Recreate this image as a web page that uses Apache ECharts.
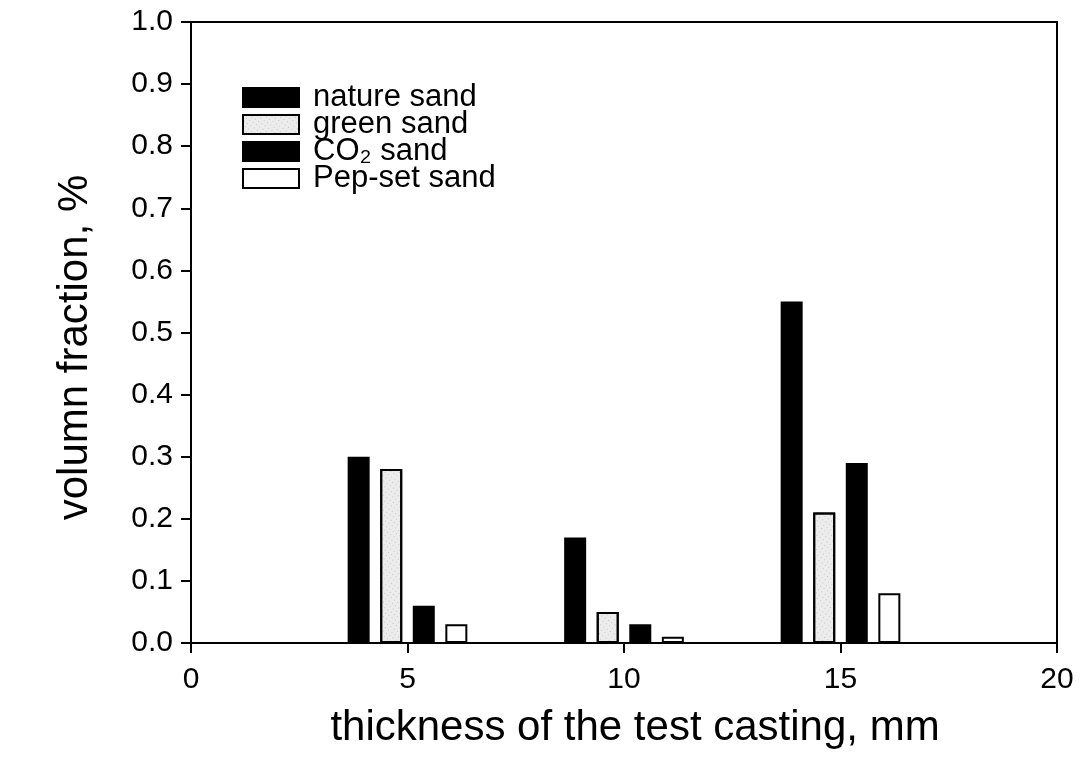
<!DOCTYPE html>
<html>
<head>
<meta charset="utf-8">
<script src="https://cdn.jsdelivr.net/npm/echarts@6/dist/echarts.min.js"></script>
<style>
  html, body { margin: 0; padding: 0; background: #fff; }
  #main { width: 1092px; height: 758px; }
</style>
</head>
<body>
<div id="main"></div>
<script>
var thickness = [5, 10, 15]
var seriesNames = ['nature sand', 'green sand', 'CO₂ sand', 'Pep-set sand']
var natureSand = [0.30, 0.17, 0.55]
var greenSand = [0.28, 0.05, 0.21]
var co2Sand = [0.06, 0.03, 0.29]
var pepSetSand = [0.03, 0.01, 0.08]

var chartDom = document.getElementById('main')
var myChart = echarts.init(chartDom)
var option

var font = 'Liberation Sans, Arial, sans-serif'

function pairs (vals) {
  return thickness.map(function (t, i) { return [t, vals[i]] })
}

var stipple = {
  symbol: 'rect',
  symbolSize: 0.6,
  color: 'rgba(0,0,0,0.55)',
  dashArrayX: [1, 3],
  dashArrayY: [1, 3],
  rotation: 0.6
}

var styles = [
  { color: '#000', borderColor: '#000', borderWidth: 1.5 },
  { color: '#ececec', borderColor: '#000', borderWidth: 2, decal: stipple },
  { color: '#000', borderColor: '#000', borderWidth: 1.5 },
  { color: '#fff', borderColor: '#000', borderWidth: 2 }
]

var values = [natureSand, greenSand, co2Sand, pepSetSand]

option = {
  backgroundColor: '#fff',
  animation: false,
  textStyle: { fontFamily: font, color: '#000' },
  grid: {
    left: 191,
    right: 35,
    top: 22,
    bottom: 115,
    show: true,
    borderColor: '#000',
    borderWidth: 2
  },
  legend: {
    orient: 'vertical',
    left: 242,
    top: 82,
    padding: 0,
    icon: 'rect',
    itemWidth: 56,
    itemHeight: 19,
    itemGap: -4,
    data: seriesNames,
    textStyle: {
      fontFamily: font,
      fontSize: 31,
      color: '#000',
      padding: [0, 0, 0, 9]
    }
  },
  xAxis: {
    type: 'value',
    min: 0,
    max: 20,
    interval: 5,
    name: 'thickness of the test casting, mm',
    nameLocation: 'middle',
    nameGap: 64,
    nameTextStyle: { fontSize: 42, fontFamily: font, color: '#000', padding: [0, 0, 0, 22] },
    axisLine: { lineStyle: { color: '#000', width: 2 } },
    axisTick: { inside: false, length: 10, lineStyle: { color: '#000', width: 2 } },
    axisLabel: { fontSize: 30, color: '#000', fontFamily: font, margin: 22 },
    splitLine: { show: false }
  },
  yAxis: {
    type: 'value',
    min: 0,
    max: 1,
    interval: 0.1,
    name: 'volumn fraction, %',
    nameLocation: 'middle',
    nameGap: 95,
    nameTextStyle: { fontSize: 42, fontFamily: font, color: '#000', padding: [0, 30, 0, 0] },
    axisLine: { show: true, lineStyle: { color: '#000', width: 2 } },
    axisTick: { inside: false, length: 10, lineStyle: { color: '#000', width: 2 } },
    axisLabel: {
      fontSize: 30,
      color: '#000',
      fontFamily: font,
      margin: 18,
      formatter: function (v) { return v.toFixed(1) }
    },
    splitLine: { show: false }
  },
  series: seriesNames.map(function (name, i) {
    return {
      name: name,
      type: 'bar',
      barWidth: 22,
      barGap: '48%',
      itemStyle: styles[i],
      data: pairs(values[i])
    }
  })
}

option && myChart.setOption(option)
</script>
</body>
</html>
